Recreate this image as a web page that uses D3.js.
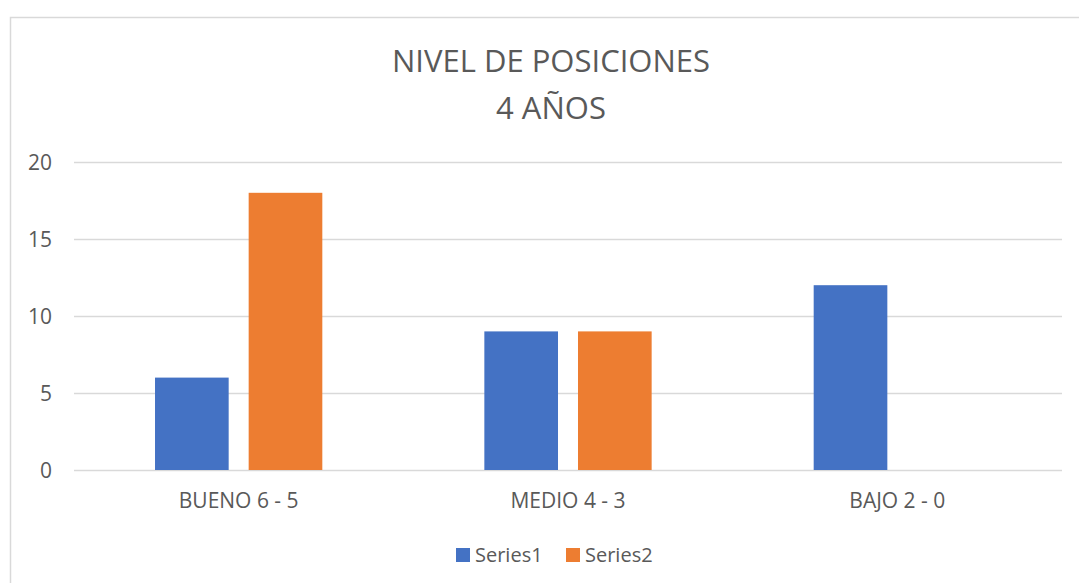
<!DOCTYPE html>
<html>
<head>
<meta charset="utf-8">
<script src="https://cdn.jsdelivr.net/npm/d3@7"></script>
<style>
  html, body { margin: 0; padding: 0; background: #fff; }
  svg text { font-family: "Open Sans", sans-serif; fill: #595959; }
</style>
</head>
<body>
<div id="chart"></div>
<script>
// ----- data -----
const categories = ["BUENO 6 - 5", "MEDIO 4 - 3", "BAJO 2 - 0"];
const seriesNames = ["Series1", "Series2"];
const series1 = [6, 9, 12];
const series2 = [18, 9, 0];
const yTicks = [0, 5, 10, 15, 20];
const titleLines = ["NIVEL DE POSICIONES", "4 AÑOS"];
const colors = ["#4472C4", "#ED7D31"];

const W = 1079, H = 583;
const plot = { left: 74, right: 1062, top: 162, bottom: 470 };

const svg = d3.select("#chart").append("svg")
  .attr("width", W)
  .attr("height", H);

// chart border
svg.append("rect")
  .attr("x", 10.5).attr("y", 17.5)
  .attr("width", 1100).attr("height", 600)
  .attr("fill", "#fff")
  .attr("stroke", "#d9d9d9")
  .attr("stroke-width", 1.5);

// title
svg.append("g")
  .selectAll("text")
  .data(titleLines)
  .enter()
  .append("text")
  .attr("x", 551)
  .attr("y", (d, i) => 72 + i * 47)
  .attr("text-anchor", "middle")
  .style("font-size", "31px")
  .text(d => d);

// scales
const x0 = d3.scaleBand()
  .domain(categories)
  .range([plot.left, plot.right])
  .padding(0);

const clusterW = x0.bandwidth() * 0.508;
const x1 = d3.scaleBand()
  .domain(seriesNames)
  .range([(x0.bandwidth() - clusterW) / 2, (x0.bandwidth() + clusterW) / 2])
  .paddingInner(0.2135)
  .paddingOuter(0);

const y = d3.scaleLinear()
  .domain([0, 20])
  .range([plot.bottom, plot.top]);

// gridlines
svg.append("g")
  .selectAll("line")
  .data(yTicks)
  .enter()
  .append("line")
  .attr("x1", plot.left)
  .attr("x2", plot.right)
  .attr("y1", d => Math.round(y(d)) + 0.5)
  .attr("y2", d => Math.round(y(d)) + 0.5)
  .attr("stroke", "#d9d9d9")
  .attr("stroke-width", 1.5);

// y axis labels
const yAxis = svg.append("g")
  .attr("transform", `translate(${plot.left - 22},0)`)
  .call(d3.axisLeft(y).tickValues(yTicks).tickSize(0).tickPadding(0));
yAxis.select(".domain").remove();
yAxis.selectAll("text")
  .attr("dy", "0.35em")
  .style("font-size", "21px")
  .style("font-family", "'Open Sans', sans-serif")
  .attr("fill", "#595959");

// bars
const rows = categories.map((c, i) => ({
  cat: c,
  values: [series1[i], series2[i]]
}));

const groups = svg.append("g")
  .selectAll("g")
  .data(rows)
  .enter()
  .append("g")
  .attr("transform", d => `translate(${x0(d.cat)},0)`);

groups.selectAll("rect")
  .data(d => d.values.map((v, j) => ({ name: seriesNames[j], value: v, j })))
  .enter()
  .append("rect")
  .attr("x", d => x1(d.name))
  .attr("width", x1.bandwidth())
  .attr("y", d => y(d.value))
  .attr("height", d => y(0) - y(d.value))
  .attr("fill", d => colors[d.j]);

// x axis labels
const xAxis = svg.append("g")
  .attr("transform", `translate(0,${plot.bottom + 23})`)
  .call(d3.axisBottom(x0).tickSize(0).tickPadding(0));
xAxis.select(".domain").remove();
xAxis.selectAll("text")
  .attr("dy", "0.71em")
  .style("font-size", "21px")
  .style("font-family", "'Open Sans', sans-serif")
  .attr("fill", "#595959");

// legend
const legend = svg.append("g");
const legendX = [456, 566];
seriesNames.forEach((name, i) => {
  legend.append("rect")
    .attr("x", legendX[i])
    .attr("y", 548)
    .attr("width", 14)
    .attr("height", 14)
    .attr("fill", colors[i]);
  legend.append("text")
    .attr("x", legendX[i] + 19)
    .attr("y", 562)
    .style("font-size", "20px")
    .text(name);
});
</script>
</body>
</html>
